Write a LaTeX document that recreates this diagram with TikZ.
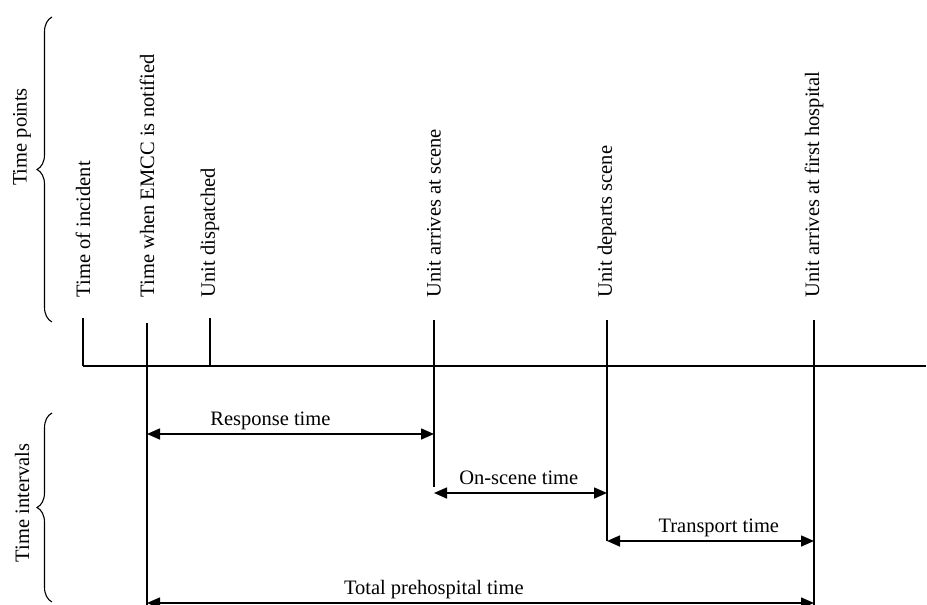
\documentclass[tikz,border=0pt]{standalone}
\usepackage{fontspec}
\setmainfont{Liberation Serif}
\usetikzlibrary{arrows.meta}
\usetikzlibrary{decorations.pathreplacing}

\tikzset{
  lbl/.style={font=\fontsize{20.5}{24}\selectfont, inner sep=0pt},
  pointlabel/.style={lbl, rotate=90, anchor=west},
  ivlabel/.style={lbl, anchor=base, yshift=9pt},
  span/.style={{Triangle[length=13pt,width=11pt]}-{Triangle[length=13pt,width=11pt]}},
  bracket/.style={line width=1.1pt, decorate, decoration={brace, amplitude=15pt}}
}

\begin{document}
\begin{tikzpicture}[x=1pt, y=-1pt, line width=1.6pt]
    \useasboundingbox (0,0) rectangle (927,605);
    % time points on the axis
    \foreach \n/\x/\t/\b/\l in {inc/83/318/366/{Time of incident},
                                emcc/147/323/605/{Time when EMCC is notified},
                                disp/210/318/366/{Unit dispatched},
                                arr/434/320/487/{Unit arrives at scene},
                                dep/607/320/541/{Unit departs scene},
                                hosp/814/320/605/{Unit arrives at first hospital}} {
        \node[pointlabel] (\n) at (\x,298) {\l};
        \coordinate (\n-top) at (\x,\t);
        \coordinate (\n-bot) at (\x,\b);
        \draw (\n-top) -- (\n-bot);
    }
    \coordinate (axisend) at (926,366);
    \draw (inc |- 0,366) -- (axisend);
    % intervals
    \draw[span] (emcc-top |- 0,434) -- node[ivlabel, pos=.43] (resp) {Response time} (arr-top |- 0,434);
    \draw[span] (arr-top |- 0,493) -- node[ivlabel, pos=.49] (onsc) {On-scene time} (dep-top |- 0,493);
    \draw[span] (dep-top |- 0,541) -- node[ivlabel, pos=.54] (trans) {Transport time} (hosp-top |- 0,541);
    \draw[span] (emcc-top |- 0,603) -- node[ivlabel, pos=.43] (total) {Total prehospital time} (hosp-top |- 0,603);
    % braces
    \draw[bracket] (52,322) -- (52,17);
    \node[lbl, rotate=90] (tp) at (22,137) {Time points};
    \draw[bracket] (52,602) -- (52,413);
    \node[lbl, rotate=90] (ti) at (22,503) {Time intervals};
\end{tikzpicture}
\end{document}
